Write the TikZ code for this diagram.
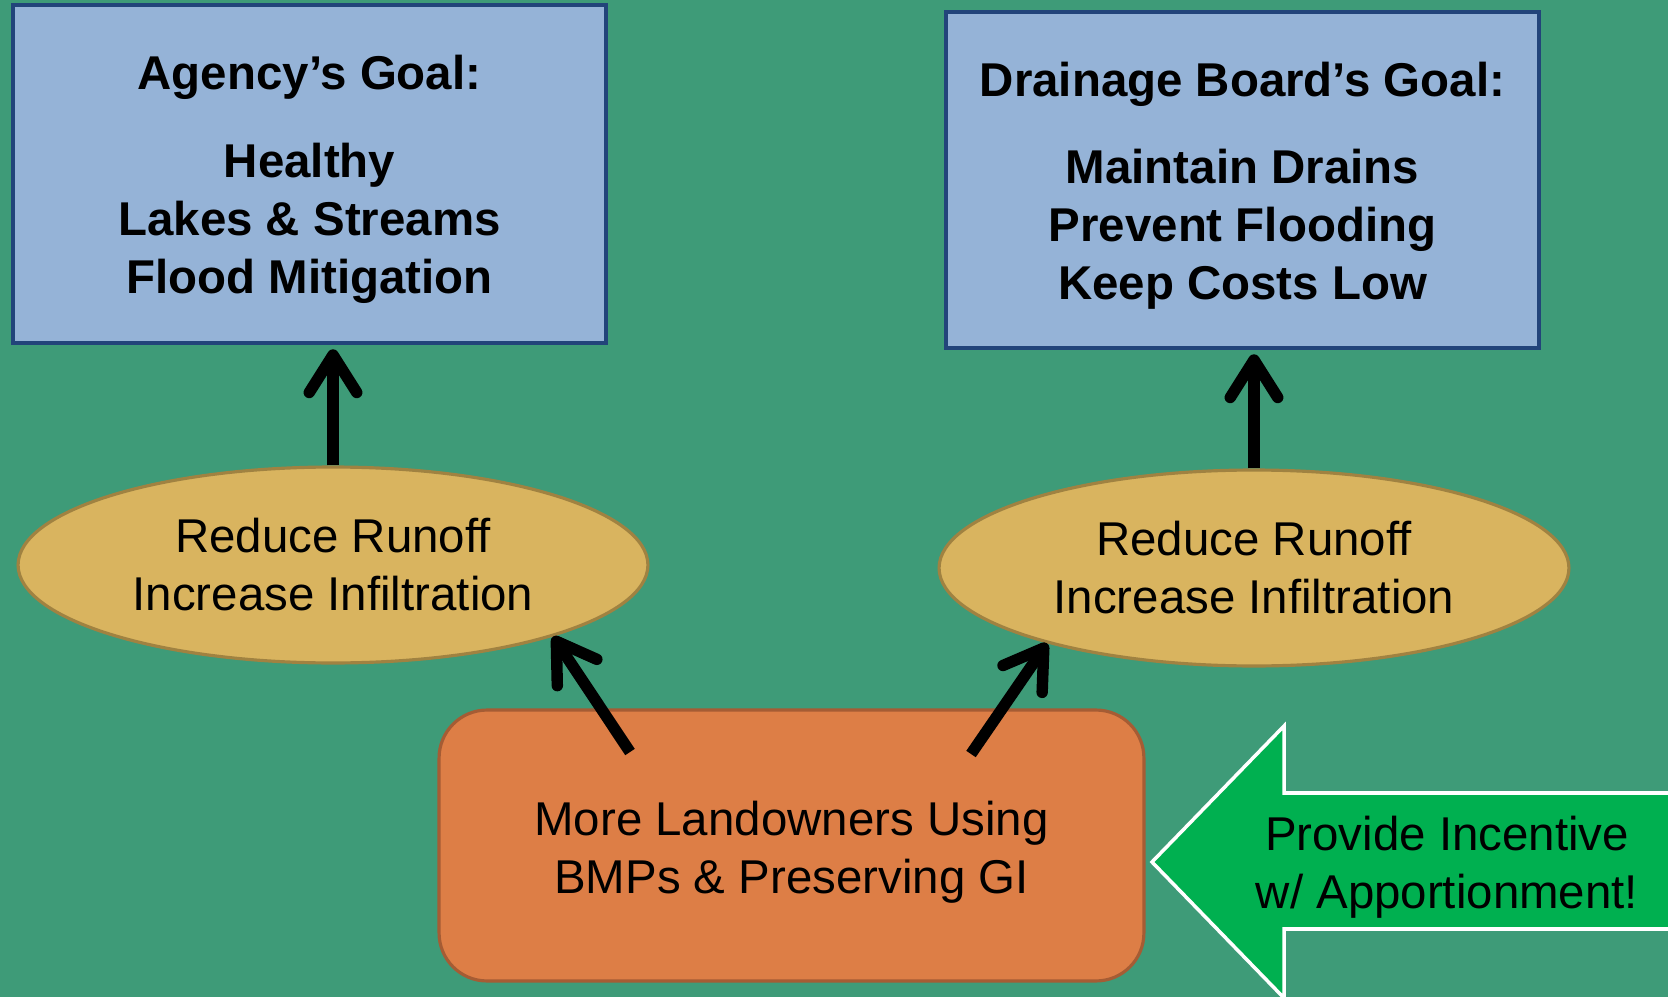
\documentclass[tikz,border=0pt]{standalone}
\usepackage{fontspec}
\setmainfont{Liberation Sans}
\usetikzlibrary{arrows.meta,shapes.geometric}
\definecolor{slidegreen}{RGB}{62,155,120}
\definecolor{goalfill}{RGB}{149,179,215}
\definecolor{goalline}{RGB}{34,68,122}
\definecolor{efffill}{RGB}{217,180,95}
\definecolor{effline}{RGB}{160,130,65}
\definecolor{actfill}{RGB}{221,126,70}
\definecolor{actline}{RGB}{165,92,52}
\definecolor{incgreen}{RGB}{0,176,80}
\newcommand{\topstrut}[1]{\rule{0pt}{#1}}
\begin{document}
\begin{tikzpicture}[x=0.02cm, y=-0.02cm,
  goalbox/.style={draw=goalline, fill=goalfill, line width=2.2pt,
    minimum width=11.86cm, minimum height=6.76cm, align=center,
    font=\bfseries\fontsize{27}{33}\selectfont},
  effect/.style={ellipse, draw=effline, fill=efffill, line width=1.8pt,
    minimum width=12.6cm, minimum height=3.92cm, inner sep=0pt, align=center,
    font=\fontsize{27}{33}\selectfont},
  action/.style={draw=actline, fill=actfill, line width=1.8pt, rounded corners=0.96cm,
    minimum width=14.1cm, minimum height=5.42cm, align=center,
    font=\fontsize{27}{33}\selectfont},
  leadsto/.style={line width=6.5pt, -{Straight Barb[length=0.75cm,width=0.95cm,round]}}]
\fill[slidegreen] (0,0) rectangle (1668,997);
\useasboundingbox (0,0) rectangle (1668,997);
% goals
\node[goalbox] (agency) at (309.5,174) {\topstrut{26pt}Agency's Goal:\\[17pt] Healthy\\ Lakes \& Streams\\ Flood Mitigation};
\node[goalbox, minimum height=6.72cm] (board) at (1242.5,180) {\topstrut{26pt}Drainage Board's Goal:\\[17pt] Maintain Drains\\ Prevent Flooding\\ Keep Costs Low};
% effects
\node[effect] (runoffA) at (333,565) {Reduce Runoff\\ Increase Infiltration};
\node[effect] (runoffB) at (1254,568) {Reduce Runoff\\ Increase Infiltration};
% action
\node[action] (landowners) at (791.5,845.5) {\topstrut{27pt}More Landowners Using\\ BMPs \& Preserving GI};
% incentive arrow
\draw[fill=incgreen, draw=white, line width=2pt, line join=miter]
  (1152,862) -- (1284,726) -- (1284,793) -- (1690,793) -- (1690,929) -- (1284,929) -- (1284,998) -- cycle;
\node[font=\fontsize{27}{33}\selectfont, align=center] (incentive) at (1447,862) {\topstrut{26pt}Provide Incentive\\ w/ Apportionment!};
% links
\coordinate (tailA) at (630,752);
\coordinate (tailB) at (971,754);
\draw[leadsto, shorten >=2.5pt] (runoffA.north) -- (runoffA.north |- agency.south);
\draw[leadsto, shorten >=2.5pt] (runoffB.north) -- (runoffB.north |- board.south);
\draw[leadsto] (tailA) -- (runoffA.-18);
\draw[leadsto] (tailB) -- (runoffB.-160);
\end{tikzpicture}
\end{document}
